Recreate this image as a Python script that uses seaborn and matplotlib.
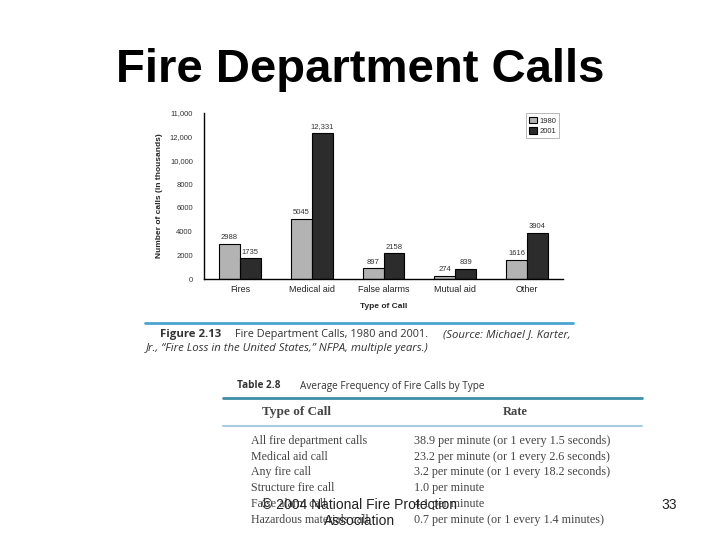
import numpy as np
import pandas as pd
import matplotlib
matplotlib.use("Agg")
import matplotlib.pyplot as plt
import seaborn as sns

# dane wykresu
kategorie = ["Fires", "Medical aid", "False alarms", "Mutual aid", "Other"]
lata = ["1980", "2001"]
wartosci_1980 = [2988, 5045, 897, 274, 1616]
wartosci_2001 = [1735, 12331, 2158, 839, 3904]
etykiety_1980 = ["2988", "5045", "897", "274", "1616"]
etykiety_2001 = ["1735", "12,331", "2158", "839", "3904"]
y_ticki = [0, 2000, 4000, 6000, 8000, 10000, 12000, 14000]
y_etykiety = ["0", "2000", "4000", "6000", "8000", "10,000", "12,000", "11,000"]

# tabela 2.8
typ_wezwania = ["All fire department calls", "Medical aid call", "Any fire call",
                "Structure fire call", "False alarm call", "Hazardous materials call"]
czestosc = ["38.9 per minute (or 1 every 1.5 seconds)",
            "23.2 per minute (or 1 every 2.6 seconds)",
            "3.2 per minute (or 1 every 18.2 seconds)",
            "1.0 per minute",
            "4.1 per minute",
            "0.7 per minute (or 1 every 1.4 minutes)"]

df = pd.DataFrame({
    "typ": kategorie * 2,
    "rok": [lata[0]] * 5 + [lata[1]] * 5,
    "liczba": wartosci_1980 + wartosci_2001,
})

sns.set_style("white")
plt.rcParams["font.family"] = ["Liberation Sans", "DejaVu Sans"]

W, H = 720, 540
fig = plt.figure(figsize=(7.2, 5.4), dpi=100)
fig.patch.set_facecolor("white")

def fx(x):
    return x / W

def fy(y):
    return 1 - y / H

# tytul slajdu
fig.text(fx(360), fy(70), "Fire Department Calls", ha="center", va="center",
         fontsize=34, fontweight="bold", color="black")

# wykres slupkowy
ax = fig.add_axes([fx(204), fy(279), fx(563) - fx(204), fy(113) - fy(279)])
sns.barplot(data=df, x="typ", y="liczba", hue="rok", order=kategorie, hue_order=lata,
            palette={"1980": "#b3b3b3", "2001": "#2c2c2c"}, width=0.58,
            edgecolor="black", linewidth=0.8, ax=ax, legend=True)

for cont, lab in zip(ax.containers, [etykiety_1980, etykiety_2001]):
    ax.bar_label(cont, labels=lab, padding=2, fontsize=5.5, color="#333333")

ax.set_ylim(0, 14000)
ax.set_xlim(-0.5, 4.5)
ax.set_yticks(y_ticki)
ax.set_yticklabels(y_etykiety)
ax.tick_params(axis="y", length=0, pad=8, labelsize=5.5, labelcolor="#333333")
ax.tick_params(axis="x", which="major", length=0, pad=4, labelsize=6.5, labelcolor="#222222")
ax.set_xticks(np.arange(-0.5, 5, 1), minor=True)
ax.tick_params(axis="x", which="minor", length=3, width=0.8, color="#333333", direction="out")
for s in ["top", "right"]:
    ax.spines[s].set_visible(False)
for s in ["left", "bottom"]:
    ax.spines[s].set_color("black")
    ax.spines[s].set_linewidth(1)
ax.set_xlabel("Type of Call", fontsize=6, fontweight="bold", labelpad=7)
ax.set_ylabel("Number of calls (in thousands)", fontsize=6, fontweight="bold", labelpad=5)
ax.set_facecolor("white")

leg = ax.legend(loc="upper right", bbox_to_anchor=(1.0, 1.02), fontsize=5.5,
                handlelength=1.0, handleheight=1.0, handletextpad=0.3,
                borderpad=0.4, labelspacing=0.3, frameon=True, fancybox=False)
leg.get_frame().set_edgecolor("#999999")
leg.get_frame().set_linewidth(0.6)

# podpis rysunku
fig.add_artist(plt.Line2D([fx(145), fx(573)], [fy(323), fy(323)], color="#4aa3d1", lw=2))
kaption = dict(fontsize=8.2, color="#333333", va="center", family=["Open Sans", "DejaVu Sans"])
fig.text(fx(160), fy(335), "Figure 2.13", fontweight="bold", **kaption)
fig.text(fx(235), fy(335), "Fire Department Calls, 1980 and 2001.", **dict(kaption, fontsize=7.8))
fig.text(fx(443), fy(335), "(Source: Michael J. Karter,", style="italic", **kaption)
fig.text(fx(146), fy(349), "Jr., \u201cFire Loss in the United States,\u201d NFPA, multiple years.)",
         style="italic", **kaption)

# tabela
tab_tyt = dict(kaption, fontsize=7.2)
fig.text(fx(237), fy(386), "Table 2.8", fontweight="bold", **tab_tyt)
fig.text(fx(300), fy(386), "Average Frequency of Fire Calls by Type", **tab_tyt)
fig.add_artist(plt.Line2D([fx(223), fx(642)], [fy(398), fy(398)], color="#3d8ea8", lw=2))
fig.add_artist(plt.Line2D([fx(223), fx(642)], [fy(426), fy(426)], color="#a5cfe0", lw=1.5))
serif = dict(family=["Liberation Serif", "DejaVu Serif"], color="#444444", va="center")
fig.text(fx(296), fy(412), "Type of Call", ha="center", fontsize=9.5, fontweight="bold", **serif)
fig.text(fx(515), fy(412), "Rate", ha="center", fontsize=9, fontweight="bold", **serif)
wiersze_y = [441, 457, 472, 488, 504, 520]
for yy, t, r in zip(wiersze_y, typ_wezwania, czestosc):
    fig.text(fx(251), fy(yy), t, fontsize=8.6, **serif)
    fig.text(fx(414), fy(yy), r, fontsize=8.7, **serif)

# stopka
fig.text(fx(360), fy(505), "\u00a9 2004 National Fire Protection", ha="center", va="center",
         fontsize=10, color="#222222")
fig.text(fx(360), fy(521), "Association", ha="center", va="center", fontsize=10, color="#222222")
fig.text(fx(669), fy(505), "33", ha="center", va="center", fontsize=10, color="#222222")

fig.savefig("out.png", dpi=100, facecolor="white")
